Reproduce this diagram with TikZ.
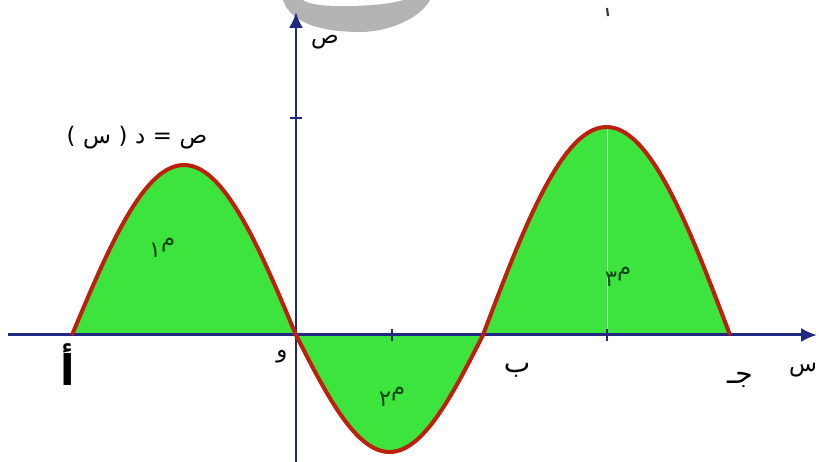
\documentclass[tikz,border=0pt]{standalone}
\usepackage{fontspec}
\newfontfamily\arabicfont[Script=Arabic]{DejaVu Sans}
\TeXXeTstate=1
\usepackage{tikz}
\usetikzlibrary{arrows.meta}
\definecolor{axisblue}{RGB}{32,40,128}
\definecolor{curvered}{RGB}{190,32,16}
\definecolor{areagreen}{RGB}{62,228,62}
\definecolor{labelgreen}{RGB}{16,70,16}
\definecolor{blotgray}{RGB}{180,180,180}
\tikzset{
  axisline/.style={axisblue,line width=1.7pt},
  curveline/.style={curvered,line width=2.3pt,line join=round},
  lbl/.style={font=\arabicfont\fontsize{13}{15}\selectfont,inner sep=0pt},
  arealbl/.style={font=\arabicfont\fontsize{13}{15}\selectfont,text=labelgreen,inner sep=0pt}
}

\begin{document}
\begin{tikzpicture}[x=0.02cm,y=0.02cm]
  \useasboundingbox (-296,-127) rectangle (523,335);
  % 上の灰色のしみ
  \fill[blotgray] (-13,335) .. controls (-5,310) and (30,303) .. (64,303)
    .. controls (95,303) and (125,318) .. (134,335) -- cycle;
  \fill[white] (7,335) .. controls (15,330) and (30,329) .. (47,329)
    .. controls (70,329) and (95,331) .. (107,335) -- cycle;
  \draw[black!80,line width=1.2pt] (311,327) -- (312,319);
  % 面積
  \fill[areagreen,domain=-224:0,samples=60] plot(\x,{170*sin((\x+224)/224*180)}) -- cycle;
  \fill[areagreen,domain=0:187,samples=60] plot(\x,{-117*sin(\x/187*180)}) -- cycle;
  \fill[areagreen,domain=187:434,samples=60] plot(\x,{208*sin((\x-187)/247*180)}) -- cycle;
  \draw[white,line width=0.5pt] (311,0) -- (311,208);
  % 軸
  \draw[axisline,-{Latex[length=9pt,width=8pt]}] (-288,0) -- (521,0);
  \draw[axisline,-{Latex[length=9pt,width=8pt]}] (0,-127) -- (0,323);
  \draw[axisblue,line width=0.8pt] (-6,217) -- (6,217);
  \foreach \t in {96,311}
    \draw[axisblue,line width=0.8pt] (\t,-6) -- (\t,6);
  % 曲線 ص = د(س)
  \draw[curveline]
    plot[domain=-224:0,samples=60] (\x,{170*sin((\x+224)/224*180)})
    -- plot[domain=0:187,samples=60] (\x,{-117*sin(\x/187*180)})
    -- plot[domain=187:434,samples=60] (\x,{208*sin((\x-187)/247*180)});
  % ラベル
  \node[lbl] (ylab) at (29,293) {ص};
  \node[lbl] (xlab) at (507,-35) {س};
  \node[lbl] (func) at (-159,197) {)\,\,س\,\,(\,\,د\,\,=\,\,ص};
  \node[lbl] (o) at (-14,-22) {و};
  \node[lbl,font=\arabicfont\bfseries\fontsize{24}{26}\selectfont] (a) at (-228,-30) {أ};
  \node[lbl,font=\arabicfont\fontsize{16}{18}\selectfont] (b) at (221,-35) {ب};
  \node[lbl,font=\arabicfont\fontsize{16}{18}\selectfont] (c) at (444,-45) {\beginR جـ\endR};
  \node[arealbl] (m1) at (-134,87) {\raisebox{-0.9ex}{١}م};
  \node[arealbl] (m2) at (96,-62) {\raisebox{-0.9ex}{٢}م};
  \node[arealbl] (m3) at (322,58) {\raisebox{-0.9ex}{٣}م};
\end{tikzpicture}
\end{document}
